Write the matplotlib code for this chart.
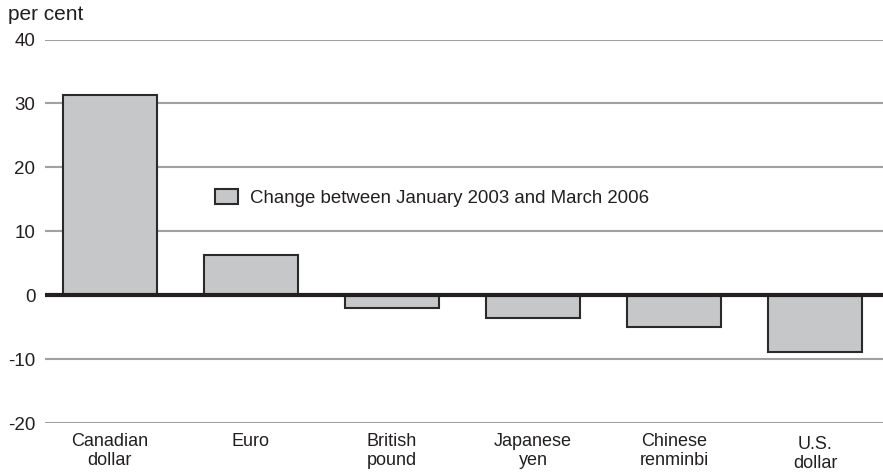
import matplotlib.pyplot as plt
import matplotlib.transforms as mtransforms

currencies = ["Canadian\ndollar", "Euro", "British\npound", "Japanese\nyen",
              "Chinese\nrenminbi", "U.S.\ndollar"]
change = [31.3, 6.3, -2.0, -3.5, -5.0, -8.9]
yticks = [-20, -10, 0, 10, 20, 30, 40]

plt.rcParams['font.family'] = ['Liberation Sans', 'DejaVu Sans']

fig = plt.figure(figsize=(8.83, 4.75), dpi=100)
ax = fig.add_axes([45/883, 52/475, 1 - 45/883, (423 - 39.5)/475])

for y in yticks:
    if y != 0:
        ax.axhline(y, color='#a0a0a0', lw=1.5, zorder=0)

x = list(range(len(currencies)))
ax.bar(x, change, width=0.667, color='#c6c7c8', edgecolor='#2a2a2a',
       linewidth=1.5, zorder=2, label='Change between January 2003 and March 2006')
ax.axhline(0, color='#231f20', lw=3, zorder=3)

ax.set_xlim(-0.46, 5.48)
ax.set_ylim(-20, 40)
ax.set_yticks(yticks)
ax.set_yticklabels([str(v) for v in yticks], fontsize=13.5, color='#231f20')
ax.set_xticks(x)
ax.set_xticklabels(currencies, fontsize=13, color='#231f20', linespacing=1.15)
ax.tick_params(length=0)
ax.tick_params(axis='y', pad=7)
ax.tick_params(axis='x', pad=7)
for s in ax.spines.values():
    s.set_visible(False)
# the last label sits a little lower in the original
lbl = ax.get_xticklabels()[-1]
lbl.set_transform(lbl.get_transform() +
                  mtransforms.ScaledTranslation(0, -3/100, fig.dpi_scale_trans))

ax.legend(loc='center left', bbox_to_anchor=(0.1935, 0.587), frameon=False,
          fontsize=13.4, handlelength=1.25, handleheight=0.85, handletextpad=0.65,
          labelcolor='#231f20', borderaxespad=0)

fig.text(8/883, 1 - 15/475, 'per cent', fontsize=15, color='#231f20', va='center')

fig.savefig('out.png', dpi=100)
